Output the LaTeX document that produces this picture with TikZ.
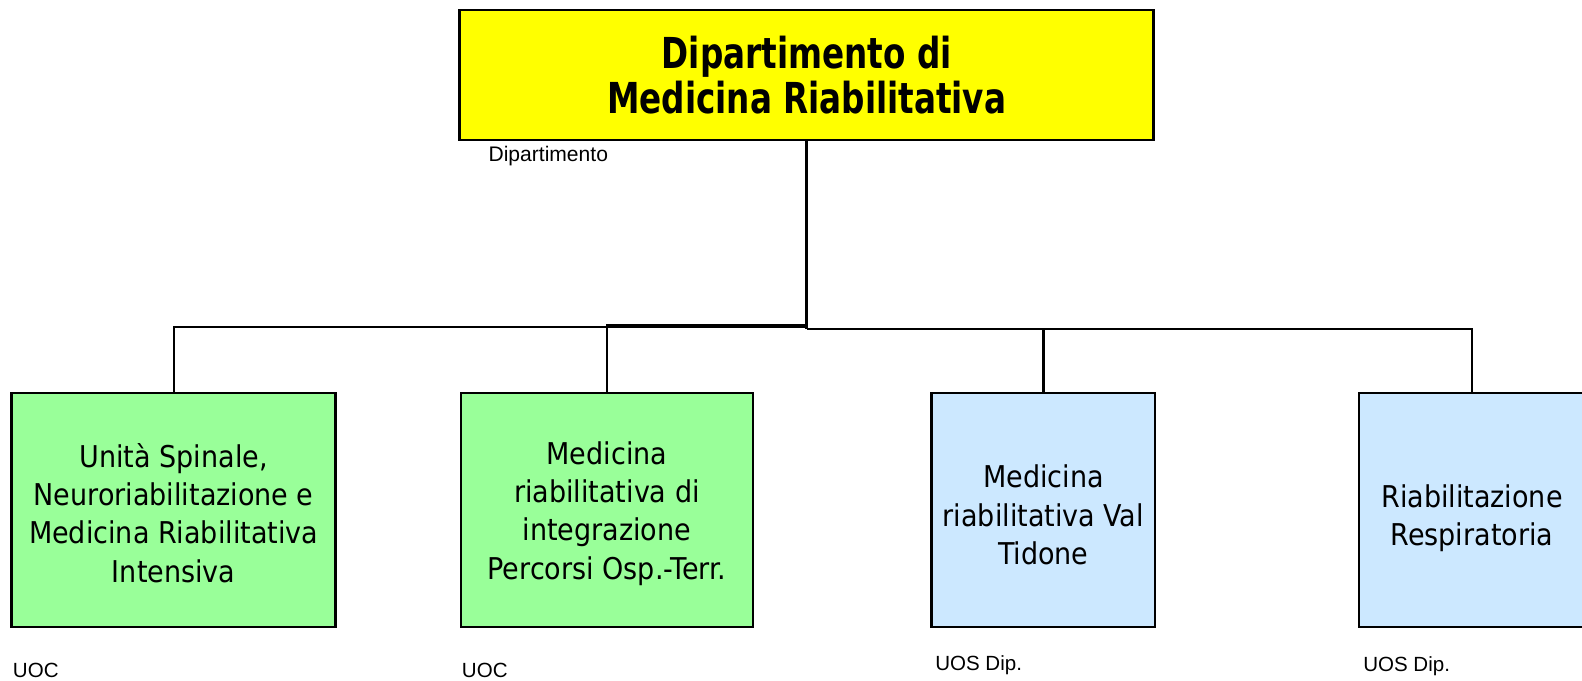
\documentclass[tikz,border=0pt]{standalone}
\usepackage{fontspec}
\setmainfont{Liberation Sans}
\newfontfamily\boxfont{DejaVu Sans Condensed}
\newfontfamily\titlefont[FakeStretch=0.85]{DejaVu Sans Condensed}
\definecolor{topyellow}{HTML}{FFFF00}
\definecolor{uocgreen}{HTML}{99FF99}
\definecolor{uosblue}{HTML}{CCE8FF}
\tikzset{
  orgbox/.style={draw=black, line width=1.9pt, rectangle, inner sep=0pt,
    minimum height=175.5pt},
  boxtext/.style={inner sep=0pt, align=center, font=\boxfont\fontsize{22.5}{28.7}\selectfont},
  topbox/.style={draw=black, line width=2.2pt, rectangle, fill=topyellow, inner sep=0pt, align=center,
    minimum width=520.5pt, minimum height=97.5pt, font=\titlefont\bfseries\fontsize{32}{34.2}\selectfont},
  conn/.style={draw=black, line width=1.7pt},
  trunk/.style={draw=black, line width=2.6pt},
  tag/.style={inner sep=0pt, anchor=base west, font=\fontsize{15.4}{18}\selectfont}
}
\begin{document}
\begin{tikzpicture}[x=0.75pt, y=-0.75pt]
\useasboundingbox (0,0) rectangle (1582,681);
\node[topbox] (top) at (806.7,75) {Dipartimento di\\Medicina Riabilitativa};
\node[tag, font=\fontsize{15.8}{18}\selectfont] (ltop) at (488.3,161.7) {Dipartimento};

\node[orgbox, fill=uocgreen, minimum width=243pt,
  label={[boxtext, yshift=-2.3pt]center:{Unità Spinale,\\Neuroriabilitazione e\\Medicina Riabilitativa\\Intensiva}}]
  (b1) at (173.7,510) {};
\node[orgbox, fill=uocgreen, minimum width=219.2pt,
  label={[boxtext, yshift=-2.6pt]center:{Medicina\\riabilitativa di\\integrazione\\Percorsi Osp.-Terr.}}]
  (b2) at (606.9,510) {};
\node[orgbox, fill=uosblue, minimum width=167.5pt,
  label={[boxtext, yshift=-3.8pt]center:{Medicina\\riabilitativa Val\\Tidone}}]
  (b3) at (1043.4,510) {};
\node[orgbox, fill=uosblue, minimum width=169.5pt,
  label={[boxtext, yshift=-6pt]center:{Riabilitazione\\Respiratoria}}]
  (b4) at (1472,510) {};

\node[tag] (l1) at (12.7,677) {UOC};
\node[tag] (l2) at (461.7,677) {UOC};
\node[tag] (l3) at (935,670.5) {UOS Dip.};
\node[tag] (l4) at (1363,671) {UOS Dip.};

\coordinate (h1) at (806.7,327);
\coordinate (h2) at (806.7,325);
\coordinate (h3) at (806.7,329);
\draw[trunk] (top.south) -- (h3);
\draw[conn] (h1) -| (b1.north);
\draw[conn] (h2) -| (b2.north);
\draw[conn] (h3) -| (b3.north);
\draw[conn] (h3) -| (b4.north);
\end{tikzpicture}
\end{document}
